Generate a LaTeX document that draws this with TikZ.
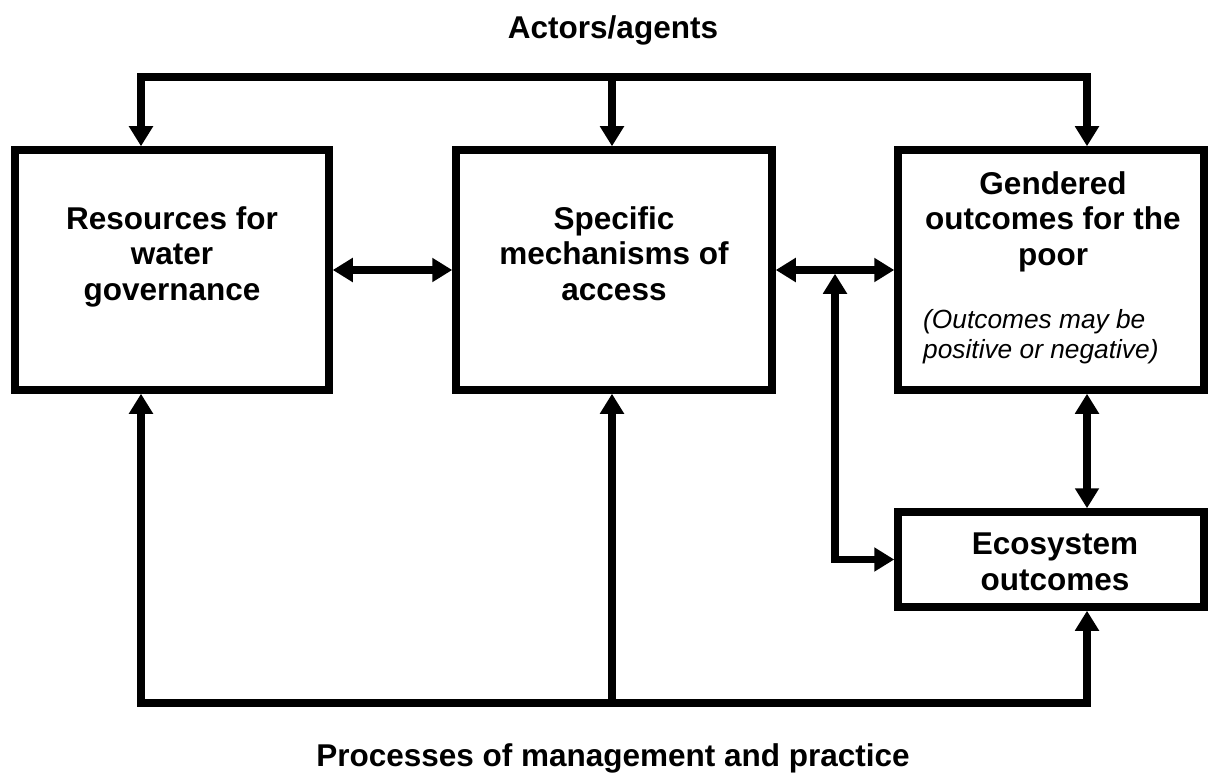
\documentclass[tikz,border=0pt]{standalone}
\usepackage{fontspec}
\setmainfont{Liberation Sans}
\usetikzlibrary{arrows.meta}
\begin{document}
\begin{tikzpicture}[x=1pt,y=-1pt,
  boxnode/.style={draw=black,line width=7.5pt,inner sep=0pt},
  boxtext/.style={font=\fontsize{31.5}{35.5}\selectfont\bfseries,align=center,inner sep=0pt,anchor=base},
  conn/.style={line width=7.5pt,line join=miter},
  tip/.tip={Triangle[width=23pt,length=20pt]}]
\useasboundingbox (0,0) rectangle (1208,773);
% boxes
\node[boxnode,minimum width=314pt,minimum height=240pt] (r) at (172,270) {};
\node[boxnode,minimum width=316pt,minimum height=240pt] (m) at (614,270) {};
\node[boxnode,minimum width=306pt,minimum height=240pt] (g) at (1051,270) {};
\node[boxnode,minimum width=306pt,minimum height=95pt] (e) at (1051,559.5) {};
% texts (anchor base = baseline of last line)
\node[boxtext] (rt) at (172,300) {Resources for\\water\\governance};
\node[boxtext] (mt) at (614,300) {Specific\\mechanisms of\\access};
\node[boxtext] (gt) at (1053,265) {Gendered\\outcomes for the\\poor};
\node[anchor=base west,align=left,inner sep=0pt,font=\fontsize{26.3}{30}\selectfont\itshape] (gn) at (923,358) {(Outcomes may be\\positive or negative)};
\node[boxtext] (et) at (1055,590) {Ecosystem\\outcomes};
\node[boxtext] (ta) at (613,39) {Actors/agents};
\node[boxtext] (tb) at (613,766) {Processes of management and practice};
% coordinates
\coordinate (tl) at (141,77);
\coordinate (tm) at (612,77);
\coordinate (tr) at (1087,77);
\coordinate (bl) at (141,703);
\coordinate (bm) at (612,703);
\coordinate (br) at (1087,703);
\coordinate (j) at (835,273.75);
% connectors
\draw[conn,{tip}-{tip}] (r.north -| tl) -- (tl) -- (tr) -- (g.north -| tr);
\draw[conn,-{tip}] (tm) -- (m.north -| tm);
\draw[conn,{tip}-{tip}] (r.south -| bl) -- (bl) -- (br) -- (e.south -| br);
\draw[conn,-{tip}] (bm) -- (m.south -| bm);
\draw[conn,{tip}-{tip}] (r.east) -- (m.west);
\draw[conn,{tip}-{tip}] (m.east) -- (g.west);
\draw[conn,{tip}-{tip}] (j) |- (e.west);
\draw[conn,{tip}-{tip}] (g.south -| tr) -- (e.north -| tr);
\end{tikzpicture}
\end{document}
